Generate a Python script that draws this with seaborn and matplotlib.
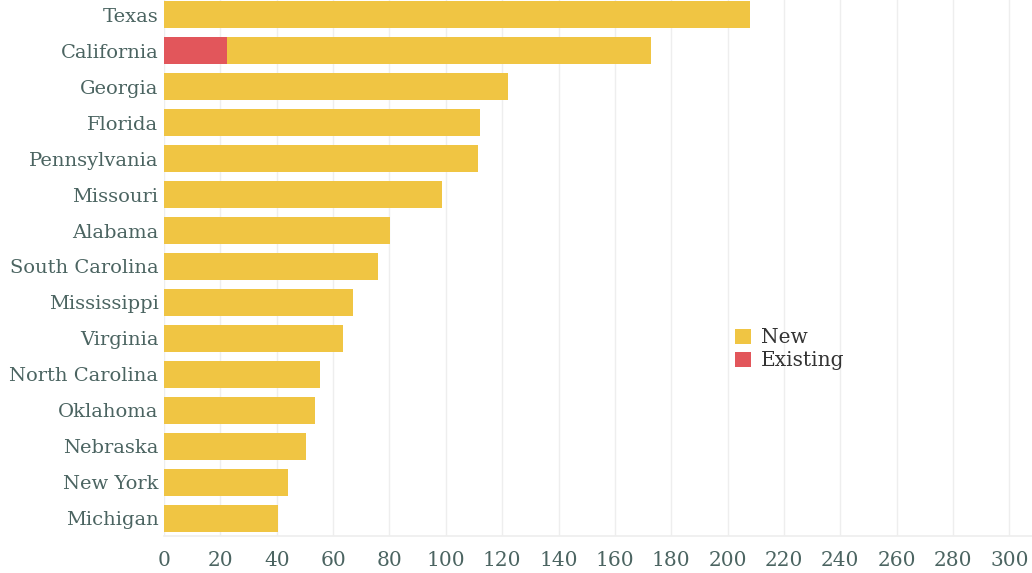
import matplotlib
matplotlib.use("Agg")
import matplotlib.pyplot as plt
import seaborn as sns
import pandas as pd
from matplotlib.patches import Patch

states = ["Texas", "California", "Georgia", "Florida", "Pennsylvania", "Missouri",
          "Alabama", "South Carolina", "Mississippi", "Virginia", "North Carolina",
          "Oklahoma", "Nebraska", "New York", "Michigan"]
new_vals = [208, 150.5, 122, 112, 111.5, 98.7, 80.2, 76, 67.2, 63.5, 55.4, 53.6, 50.4, 44, 40.5]
existing_vals = [0, 22.4, 0, 0, 0, 0, 0, 0, 0, 0, 0, 0, 0, 0, 0]
xticks = list(range(0, 301, 20))

YELLOW = "#F0C543"
RED = "#E2565B"
TEXT = "#4B6461"

df = pd.DataFrame({"state": states, "new": new_vals, "existing": existing_vals})
df["total"] = df["new"] + df["existing"]

sns.set_theme(style="white")
plt.rcParams["font.family"] = ["DejaVu Serif"]

fig = plt.figure(figsize=(10.32, 5.73), dpi=100)
ax = fig.add_axes([164 / 1032, 1 - 536 / 573, 868 / 1032, 539 / 573])

sns.barplot(data=df, y="state", x="total", color=YELLOW, orient="h", width=0.75,
            ax=ax, saturation=1, zorder=2, linewidth=0)
sns.barplot(data=df, y="state", x="existing", color=RED, orient="h", width=0.75,
            ax=ax, saturation=1, zorder=3, linewidth=0)

ax.set_xlim(0, 308)
ax.set_ylim(14.5, -0.5)
ax.set_xticks(xticks)
ax.set_xticklabels([str(t) for t in xticks])
ax.grid(axis="x", color="#EEEEEE", linewidth=1, zorder=0)
ax.set_axisbelow(True)
ax.set_xlabel("")
ax.set_ylabel("")
for s in ["top", "right", "left"]:
    ax.spines[s].set_visible(False)
ax.spines["bottom"].set_color("#EEEEEE")
ax.tick_params(axis="x", colors="#EEEEEE", length=5, width=1, labelcolor=TEXT,
               labelsize=14.5, pad=6)
ax.tick_params(axis="y", length=0, labelcolor=TEXT, labelsize=14, pad=4)

handles = [Patch(facecolor=YELLOW, edgecolor="none", label="New"),
           Patch(facecolor=RED, edgecolor="none", label="Existing")]
leg = ax.legend(handles=handles, loc="upper left", bbox_to_anchor=(0.648, 0.40),
                frameon=False, fontsize=14.5, handlelength=0.8, handleheight=0.8,
                handletextpad=0.5, labelspacing=0.2, borderaxespad=0)
for t in leg.get_texts():
    t.set_color("#333333")

fig.savefig("out.png", dpi=100)
